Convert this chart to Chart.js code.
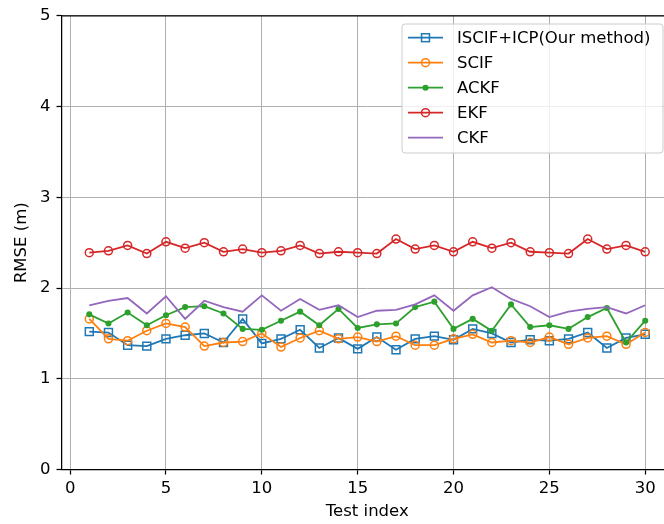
<!DOCTYPE html>
<html>
<head>
<meta charset="utf-8">
<script src="https://cdn.jsdelivr.net/npm/chart.js@4/dist/chart.umd.min.js"></script>
<style>
  html, body { margin: 0; padding: 0; background: #fff; overflow: hidden; }
  #wrap { width: 690px; height: 524px; }
</style>
</head>
<body>
<div id="wrap"><canvas id="rmseChart" width="690" height="524"></canvas></div>
<script>
const testIndex = [1, 2, 3, 4, 5, 6, 7, 8, 9, 10, 11, 12, 13, 14, 15, 16, 17, 18, 19, 20, 21, 22, 23, 24, 25, 26, 27, 28, 29, 30]
const xTicks = [0, 5, 10, 15, 20, 25, 30]
const yTicks = [0, 1, 2, 3, 4, 5]

const iscif = [1.52, 1.51, 1.37, 1.36, 1.44, 1.48, 1.50, 1.40, 1.66, 1.39, 1.44, 1.54, 1.34, 1.45, 1.33, 1.46, 1.32, 1.44, 1.47, 1.43, 1.55, 1.50, 1.40, 1.43, 1.42, 1.44, 1.51, 1.34, 1.45, 1.49]
const scif = [1.66, 1.44, 1.42, 1.53, 1.61, 1.57, 1.36, 1.40, 1.41, 1.50, 1.35, 1.45, 1.53, 1.44, 1.46, 1.41, 1.47, 1.37, 1.37, 1.44, 1.49, 1.40, 1.42, 1.40, 1.46, 1.38, 1.45, 1.47, 1.38, 1.51]
const ackf = [1.71, 1.61, 1.73, 1.59, 1.70, 1.79, 1.80, 1.72, 1.55, 1.54, 1.64, 1.74, 1.59, 1.77, 1.56, 1.60, 1.61, 1.79, 1.85, 1.55, 1.66, 1.53, 1.82, 1.57, 1.59, 1.55, 1.68, 1.78, 1.40, 1.64]
const ekf = [2.39, 2.41, 2.47, 2.38, 2.51, 2.44, 2.50, 2.40, 2.43, 2.39, 2.41, 2.47, 2.38, 2.40, 2.39, 2.38, 2.54, 2.43, 2.47, 2.40, 2.51, 2.44, 2.50, 2.40, 2.39, 2.38, 2.54, 2.43, 2.47, 2.40]
const ckf = [1.81, 1.86, 1.89, 1.72, 1.91, 1.66, 1.86, 1.79, 1.74, 1.92, 1.75, 1.88, 1.76, 1.81, 1.68, 1.75, 1.76, 1.82, 1.92, 1.75, 1.92, 2.01, 1.88, 1.80, 1.68, 1.74, 1.77, 1.79, 1.72, 1.81]

const FONT = "'DejaVu Sans', 'Liberation Sans', sans-serif"

const series = [
  { label: 'ISCIF+ICP(Our method)', data: iscif, color: '#1f77b4', style: 'rect', radius: 5.6, fill: false },
  { label: 'SCIF', data: scif, color: '#ff7f0e', style: 'circle', radius: 4, fill: false },
  { label: 'ACKF', data: ackf, color: '#2ca02c', style: 'circle', radius: 2.3, fill: true },
  { label: 'EKF', data: ekf, color: '#d62728', style: 'circle', radius: 4, fill: false },
  { label: 'CKF', data: ckf, color: '#9467bd', style: false, radius: 0, fill: false }
]

// top spine + matplotlib-like legend box
const framePlugin = {
  id: 'frame',
  afterDraw(chart) {
    const { ctx, chartArea } = chart
    ctx.save()
    ctx.strokeStyle = '#000'
    ctx.lineWidth = 1.25
    ctx.beginPath()
    ctx.moveTo(chartArea.left, chartArea.top)
    ctx.lineTo(chartArea.right, chartArea.top)
    ctx.stroke()

    const bx = 402, by = 24, bw = 261, bh = 129, r = 3
    ctx.beginPath()
    ctx.moveTo(bx + r, by)
    ctx.arcTo(bx + bw, by, bx + bw, by + bh, r)
    ctx.arcTo(bx + bw, by + bh, bx, by + bh, r)
    ctx.arcTo(bx, by + bh, bx, by, r)
    ctx.arcTo(bx, by, bx + bw, by, r)
    ctx.closePath()
    ctx.fillStyle = 'rgba(255,255,255,0.8)'
    ctx.fill()
    ctx.strokeStyle = '#cccccc'
    ctx.lineWidth = 1
    ctx.stroke()

    ctx.font = '16.5px ' + FONT
    ctx.textBaseline = 'middle'
    ctx.textAlign = 'left'
    series.forEach((s, i) => {
      const y = 37.7 + i * 25
      ctx.strokeStyle = s.color
      ctx.lineWidth = 1.8
      ctx.beginPath()
      ctx.moveTo(408, y)
      ctx.lineTo(443, y)
      ctx.stroke()
      const mx = 425.5
      ctx.lineWidth = 1.5
      if (s.style === 'rect') {
        const h = s.radius * Math.SQRT1_2
        ctx.strokeRect(mx - h, y - h, 2 * h, 2 * h)
      } else if (s.style === 'circle') {
        ctx.beginPath()
        ctx.arc(mx, y, s.radius, 0, Math.PI * 2)
        if (s.fill) { ctx.fillStyle = s.color; ctx.fill() }
        ctx.stroke()
      }
      ctx.fillStyle = '#000'
      ctx.fillText(s.label, 457, y + 1)
    })
    ctx.restore()
  }
}

const ctx = document.getElementById('rmseChart')

new Chart(ctx, {
  type: 'line',
  data: {
    labels: testIndex,
    datasets: series.map((s, i) => ({
      label: s.label,
      data: s.data.map((v, j) => ({ x: testIndex[j], y: v })),
      borderColor: s.color,
      backgroundColor: s.fill ? s.color : 'rgba(0,0,0,0)',
      borderWidth: 1.8,
      pointStyle: s.style,
      pointRadius: s.radius,
      pointBorderWidth: 1.5,
      pointBorderColor: s.color,
      pointBackgroundColor: s.fill ? s.color : 'rgba(0,0,0,0)',
      tension: 0,
      fill: false,
      order: series.length - i
    }))
  },
  options: {
    responsive: false,
    devicePixelRatio: 1,
    animation: false,
    layout: { padding: { top: 15, left: 0, right: 17, bottom: 0 } },
    plugins: {
      legend: { display: false },
      tooltip: { enabled: false }
    },
    scales: {
      x: {
        type: 'linear',
        min: -0.45,
        max: 31.45,
        afterBuildTicks: (scale) => { scale.ticks = xTicks.map((v) => ({ value: v })) },
        afterFit: (scale) => { scale.height = 54.5 },
        ticks: { color: '#000', font: { family: FONT, size: 16.5 }, padding: 4, maxRotation: 0 },
        grid: { color: '#b0b0b0', lineWidth: 1, drawTicks: true, tickLength: 5, tickColor: '#000', tickWidth: 1.25 },
        border: { color: '#000', width: 1.25 },
        title: { display: true, text: 'Test index', color: '#000', font: { family: FONT, size: 16.5 }, padding: { top: 0, bottom: 2 } }
      },
      y: {
        min: 0,
        max: 5,
        afterBuildTicks: (scale) => { scale.ticks = yTicks.map((v) => ({ value: v })) },
        afterFit: (scale) => { scale.width = 61.5 },
        ticks: { color: '#000', font: { family: FONT, size: 16.5 }, padding: 6 },
        grid: { color: '#b0b0b0', lineWidth: 1, drawTicks: true, tickLength: 5, tickColor: '#000', tickWidth: 1.25 },
        border: { color: '#000', width: 1.25 },
        title: { display: true, text: 'RMSE (m)', color: '#000', font: { family: FONT, size: 16.5 }, padding: { top: 12, bottom: 0 } }
      }
    }
  },
  plugins: [framePlugin]
})
</script>
</body>
</html>
